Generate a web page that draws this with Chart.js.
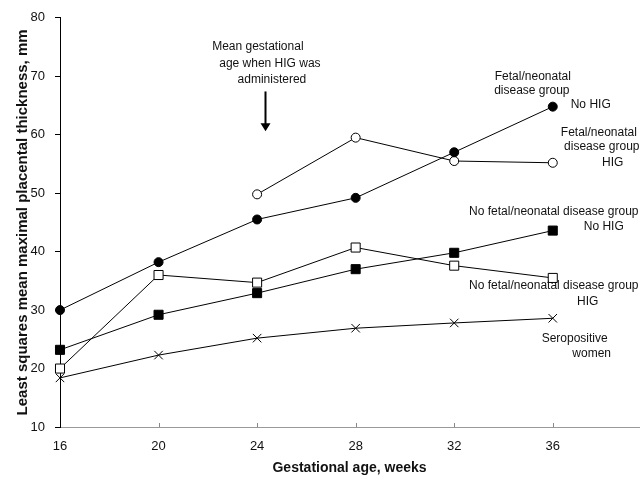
<!DOCTYPE html>
<html>
<head>
<meta charset="utf-8">
<script src="https://cdn.jsdelivr.net/npm/chart.js@4"></script>
<style>
  body{margin:0;background:#fff;}
  canvas{display:block;}
</style>
</head>
<body>
<canvas id="c" width="640" height="477"></canvas>
<script>
// weeks of gestation
const weeks=[16,20,24,28,32,36];

// least squares mean placental thickness (mm)
const fetalNoHIG=[30.0,38.2,45.5,49.2,57.0,64.8];
const fetalHIG=[null,null,49.8,59.5,55.5,55.2];
const noFetalNoHIG=[23.2,29.2,32.9,37.0,39.8,43.6];
const noFetalHIG=[20.0,36.0,34.7,40.7,37.6,35.5];
const seropositive=[18.4,22.3,25.2,26.9,27.8,28.6];

const yTicks=[10,20,30,40,50,60,70,80];
const xTicks=[16,20,24,28,32,36];

// text notes, placed in data units: [text, x, y]
const notes=[
  ["Mean gestational",24.03,75.1],
  ["age when HIG was",24.52,72.2],
  ["administered",24.60,69.45],
  ["Fetal/neonatal",35.19,69.96],
  ["disease group",35.15,67.57],
  ["No HIG",37.54,65.19],
  ["Fetal/neonatal",37.87,60.42],
  ["disease group",37.99,58.03],
  ["HIG",38.43,55.2],
  ["No fetal/neonatal disease group",36.04,46.79],
  ["No HIG",38.07,44.24],
  ["No fetal/neonatal disease group",36.04,34.19],
  ["HIG",37.42,31.46],
  ["Seropositive",36.89,25.16],
  ["women",37.58,22.6]
];
const arrow={x:24.32,from:67.4,to:60.6};

const FONT="'Liberation Sans', Arial, sans-serif";

function pts(vals){
  return weeks.map((w,i)=>({x:w,y:vals[i]})).filter(p=>p.y!==null);
}

function series(vals,style,fill,r){
  return {
    data:pts(vals),
    borderColor:'#000',
    borderWidth:1,
    pointStyle:style,
    pointRadius:r,
    pointBackgroundColor:fill,
    pointBorderColor:'#000',
    pointBorderWidth:1,
    tension:0,
    clip:false
  };
}

const notesPlugin={
  id:'notes',
  afterDraw(chart){
    const {ctx,scales:{x,y}}=chart;
    ctx.save();
    // small inward ticks on the x axis
    ctx.strokeStyle='#888';
    ctx.lineWidth=1;
    xTicks.slice(1).forEach(t=>{
      const px=Math.round(x.getPixelForValue(t))+0.5;
      ctx.beginPath();
      ctx.moveTo(px,y.bottom);
      ctx.lineTo(px,y.bottom-4);
      ctx.stroke();
    });
    ctx.fillStyle='#111';
    ctx.font='12px '+FONT;
    ctx.textAlign='center';
    ctx.textBaseline='middle';
    notes.forEach(n=>{
      ctx.fillText(n[0],x.getPixelForValue(n[1]),y.getPixelForValue(n[2]));
    });
    // arrow
    const ax=Math.round(x.getPixelForValue(arrow.x))+0.5;
    const y0=y.getPixelForValue(arrow.from), y1=y.getPixelForValue(arrow.to);
    ctx.strokeStyle='#000';
    ctx.lineWidth=2;
    ctx.beginPath();
    ctx.moveTo(ax,y0);
    ctx.lineTo(ax,y1-7);
    ctx.stroke();
    ctx.fillStyle='#000';
    ctx.beginPath();
    ctx.moveTo(ax-5,y1-8);
    ctx.lineTo(ax+5,y1-8);
    ctx.lineTo(ax,y1);
    ctx.closePath();
    ctx.fill();
    ctx.restore();
  }
};

new Chart(document.getElementById('c'),{
  type:'line',
  data:{
    datasets:[
      series(fetalNoHIG,'circle','#000',4.5),
      series(fetalHIG,'circle','#fff',4.5),
      series(noFetalNoHIG,'rect','#000',6.4),
      series(noFetalHIG,'rect','#fff',6.4),
      series(seropositive,'crossRot','#000',6)
    ]
  },
  options:{
    responsive:false,
    animation:false,
    layout:{autoPadding:false,padding:{top:16,right:1,left:0,bottom:0}},
    plugins:{legend:{display:false},tooltip:{enabled:false}},
    scales:{
      x:{
        type:'linear',
        min:16,max:39.5,
        afterBuildTicks(s){ s.ticks=xTicks.map(v=>({value:v})); },
        afterFit(s){ s.height=50; s.paddingRight=0; s.paddingLeft=0; },
        grid:{display:false},
        border:{color:'#999',width:1},
        ticks:{color:'#111',font:{family:FONT,size:13},padding:4,maxRotation:0},
        title:{display:true,text:'Gestational age, weeks',color:'#111',
          font:{family:FONT,size:14,weight:'bold'},padding:{top:0,bottom:0}}
      },
      y:{
        min:10,max:80,
        afterBuildTicks(s){ s.ticks=yTicks.map(v=>({value:v})); },
        afterFit(s){ s.width=60; },
        grid:{drawOnChartArea:false,drawTicks:true,tickLength:5,color:'#000'},
        border:{color:'#000',width:1},
        ticks:{color:'#111',font:{family:FONT,size:13},padding:10},
        title:{display:true,text:'Least squares mean maximal placental thickness, mm',color:'#111',
          font:{family:FONT,size:15,weight:'bold'},padding:{top:14,bottom:0}}
      }
    }
  },
  plugins:[notesPlugin]
});
</script>
</body>
</html>
